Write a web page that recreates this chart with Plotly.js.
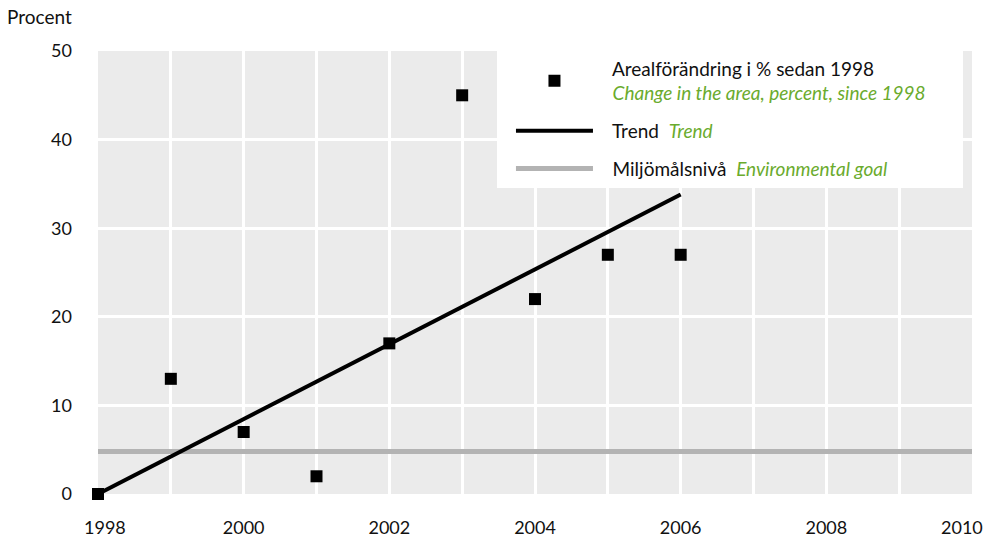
<!DOCTYPE html>
<html>
<head>
<meta charset="utf-8">
<script src="https://cdn.plot.ly/plotly-3.0.1.min.js"></script>
<style>
  html, body { margin: 0; padding: 0; background: #ffffff; }
  #chart { width: 991px; height: 539px; }
</style>
</head>
<body>
<div id="chart"></div>
<script>
// --- data ---
const years = [1998, 1999, 2000, 2001, 2002, 2003, 2004, 2005, 2006];
const areaChange = [0, 13, 7, 2, 17, 45, 22, 27, 27];
const trendYears = [1998, 2006];
const trendValues = [0, 33.8];
const goalYears = [1998, 2010];
const goalValues = [4.8, 4.8];
const xTickVals = [1998, 2000, 2002, 2004, 2006, 2008, 2010];
const xTickLabels = ['1998', '2000', '2002', '2004', '2006', '2008', '2010'];
const yTickVals = [0, 10, 20, 30, 40, 50];

const seriesNameSv = 'Arealförändring i % sedan 1998';
const seriesNameEn = 'Change in the area, percent, since 1998';
const trendNameSv = 'Trend';
const trendNameEn = 'Trend';
const goalNameSv = 'Miljömålsnivå';
const goalNameEn = 'Environmental goal';

const GREEN = '#6aab2d';
const FONT = 'Lato, "Open Sans", sans-serif';
const PAD = '\u00a0\u00a0\u00a0';
const NB = '\u00a0\u00a0\u00a0';

function en(t) { return '<span style="color:' + GREEN + '"><i>' + t + '</i></span>'; }

// last x tick label is drawn as an axis-anchored annotation (right-aligned, like the original)
const lastIdx = xTickVals.length - 1;
const axisTickVals = xTickVals.slice(0, lastIdx);
const axisTickText = xTickLabels.slice(0, lastIdx).map(function (t, i) {
  return i === 0 ? NB + t : t;
});

const traces = [
  {
    x: goalYears, y: goalValues, type: 'scatter', mode: 'lines',
    name: PAD + goalNameSv + '  ' + en(goalNameEn),
    legendgroup: 'g3', legendrank: 3,
    line: { color: '#b3b3b3', width: 5 },
    cliponaxis: false, hoverinfo: 'skip'
  },
  {
    x: trendYears, y: trendValues, type: 'scatter', mode: 'lines',
    name: PAD + trendNameSv + '  ' + en(trendNameEn),
    legendgroup: 'g2', legendrank: 2,
    line: { color: '#000000', width: 4 },
    cliponaxis: false, hoverinfo: 'skip'
  },
  {
    x: years, y: areaChange, type: 'scatter', mode: 'markers',
    name: PAD + seriesNameSv + '<br>' + PAD + en(seriesNameEn),
    legendgroup: 'g1', legendrank: 1,
    marker: { symbol: 'square', size: 12, color: '#000000' },
    cliponaxis: false
  }
];

const layout = {
  width: 991, height: 539,
  margin: { l: 98, r: 19, t: 51, b: 45 },
  paper_bgcolor: '#ffffff',
  plot_bgcolor: '#ebebeb',
  font: { family: FONT, size: 18, color: '#111111' },
  showlegend: true,
  legend: {
    x: 0.4725, y: 1.0034, xanchor: 'left', yanchor: 'top',
    bgcolor: 'rgba(0,0,0,0)', borderwidth: 0,
    traceorder: 'grouped',
    font: { family: FONT, size: 19, color: '#111111' },
    itemwidth: 77,
    tracegroupgap: 10
  },
  shapes: [
    {
      type: 'rect', xref: 'paper', yref: 'paper', layer: 'above',
      x0: 0.4565, x1: 0.9897, y0: 0.6907, y1: 1.03,
      fillcolor: '#ffffff', line: { width: 0 }
    }
  ],
  xaxis: {
    range: [1998, 2010],
    tickvals: axisTickVals,
    ticktext: axisTickText,
    showgrid: true, gridcolor: '#ffffff', gridwidth: 3,
    minor: { dtick: 1, showgrid: true, gridcolor: '#ffffff', gridwidth: 3 },
    zeroline: false, showline: false, ticks: '',
    ticklabelstandoff: 21,
    tickfont: { family: FONT, size: 18, color: '#111111' },
    fixedrange: true
  },
  yaxis: {
    range: [0, 50],
    tickvals: yTickVals,
    showgrid: true, gridcolor: '#ffffff', gridwidth: 3,
    zeroline: false, showline: false, ticks: '',
    ticklabelstandoff: 25,
    tickfont: { family: FONT, size: 18, color: '#111111' },
    fixedrange: true
  },
  annotations: [
    {
      text: 'Procent', xref: 'paper', yref: 'paper',
      x: -0.106, y: 1.077, xanchor: 'left', yanchor: 'middle',
      showarrow: false, font: { family: FONT, size: 19, color: '#111111' }
    },
    {
      text: xTickLabels[lastIdx], xref: 'x', yref: 'paper',
      x: xTickVals[lastIdx], y: -0.0745, xanchor: 'right', yanchor: 'middle',
      xshift: 13,
      showarrow: false, font: { family: FONT, size: 18, color: '#111111' }
    }
  ]
};

Plotly.newPlot('chart', traces, layout, { displayModeBar: false, staticPlot: true });
</script>
</body>
</html>
